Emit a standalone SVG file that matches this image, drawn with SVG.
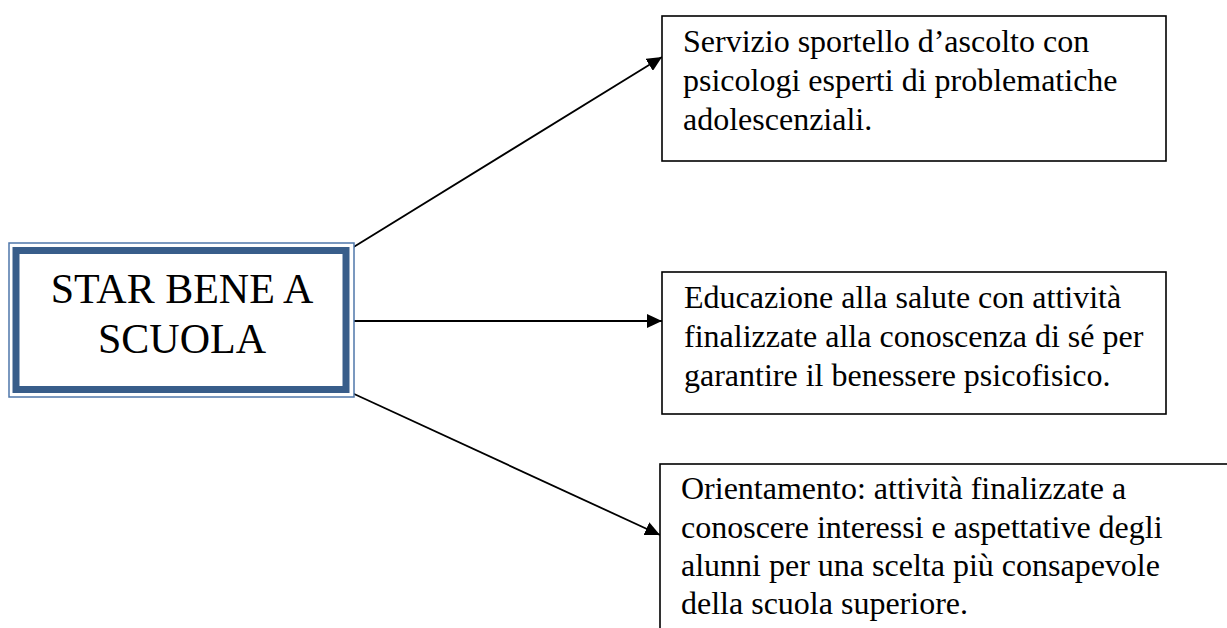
<svg xmlns="http://www.w3.org/2000/svg" width="1227" height="628" viewBox="0 0 1227 628">
<style>
.t{font-family:"Liberation Serif","Times New Roman",serif;fill:#000}
.main{font-size:42px}
.box{font-size:32px}
.b{fill:#fff;stroke:#000;stroke-width:1.6}
.c{stroke:#000;stroke-width:1.8;fill:none}
</style>
<defs>
<marker id="ah" markerUnits="userSpaceOnUse" markerWidth="16" markerHeight="14" refX="15" refY="7" orient="auto">
<path d="M0,0 L15,7 L0,14 z" fill="#000"/>
</marker>
</defs>
<rect width="1227" height="628" fill="#fff"/>
<g id="connectors">
<line class="c" x1="352" y1="248" x2="662" y2="57" marker-end="url(#ah)"/>
<line class="c" x1="350" y1="321" x2="662" y2="321" marker-end="url(#ah)"/>
<line class="c" x1="352" y1="393" x2="660" y2="535" marker-end="url(#ah)"/>
</g>
<g id="center">
<rect x="9" y="243" width="345" height="154" fill="#fff" stroke="#4f77aa" stroke-width="1.5"/>
<rect x="16" y="250.5" width="330" height="139" fill="#fff" stroke="#385d8a" stroke-width="7"/>
<text class="t main" x="182" y="303" text-anchor="middle">STAR BENE A</text>
<text class="t main" x="182" y="353" text-anchor="middle">SCUOLA</text>
</g>
<g id="box1">
<rect class="b" x="662" y="16" width="504" height="145"/>
<text class="t box" x="683" y="52">Servizio sportello d’ascolto con</text>
<text class="t box" x="683" y="91">psicologi esperti di problematiche</text>
<text class="t box" x="683" y="130">adolescenziali.</text>
</g>
<g id="box2">
<rect class="b" x="662" y="272" width="504" height="142"/>
<text class="t box" x="684" y="308">Educazione alla salute con attività</text>
<text class="t box" x="684" y="347">finalizzate alla conoscenza di sé per</text>
<text class="t box" x="684" y="386">garantire il benessere psicofisico.</text>
</g>
<g id="box3">
<rect class="b" x="660" y="464" width="600" height="200"/>
<text class="t box" x="681" y="499">Orientamento: attività finalizzate a</text>
<text class="t box" x="681" y="538">conoscere interessi e aspettative degli</text>
<text class="t box" x="681" y="576">alunni per una scelta più consapevole</text>
<text class="t box" x="681" y="614">della scuola superiore.</text>
</g>
</svg>
